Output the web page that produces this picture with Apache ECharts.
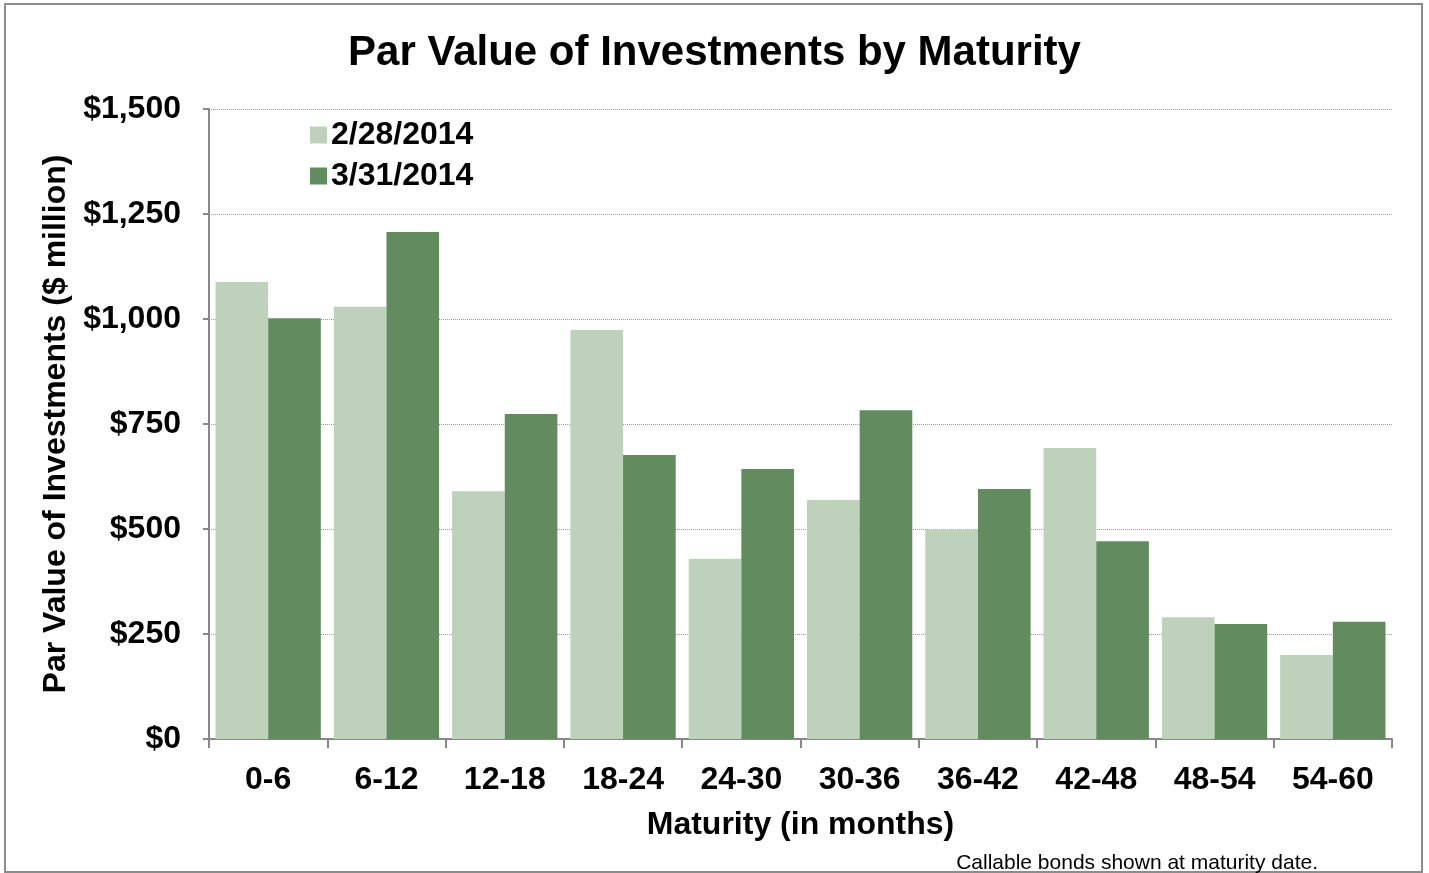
<!DOCTYPE html>
<html><head><meta charset="utf-8">
<script src="https://cdn.jsdelivr.net/npm/echarts@6/dist/echarts.min.js"></script>
<style>html,body{margin:0;padding:0;background:#fff}#c{width:1429px;height:873px}</style>
</head><body><div id="c"></div>
<script>
const categories = ['0-6','6-12','12-18','18-24','24-30','30-36','36-42','42-48','48-54','54-60'];
const feb2014 = [1088, 1029, 590, 974, 429, 569, 498, 693, 290, 200];
const mar2014 = [1002, 1207, 774, 676, 643, 783, 595, 471, 274, 279];
const seriesNames = ['2/28/2014', '3/31/2014'];
const yTicks = [0, 250, 500, 750, 1000, 1250, 1500];

const FONT = '"Liberation Sans", Arial, sans-serif';
const chart = echarts.init(document.getElementById('c'), null, {renderer:'canvas'});
chart.setOption({
  animation: false,
  backgroundColor: '#fff',
  textStyle: {fontFamily: FONT},
  title: {
    text: 'Par Value of Investments by Maturity',
    left: 'center', top: 27,
    textStyle: {fontFamily: FONT, fontSize: 42, fontWeight: 'bold', color: '#000'}
  },
  legend: {
    orient: 'vertical', left: 305, top: 114,
    itemWidth: 17, itemHeight: 17, itemGap: 9,
    textStyle: {fontFamily: FONT, fontSize: 32, fontWeight: 'bold', color: '#000', padding:[0,0,0,-1]},
    icon: 'rect',
    data: seriesNames
  },
  grid: {left: 209, right: 37, top: 109, bottom: 134},
  xAxis: {
    type: 'category', data: categories,
    axisLine: {lineStyle: {color: '#888', width: 2}},
    axisTick: {show: true, alignWithLabel: false, length: 9, lineStyle: {color: '#888', width: 2}},
    axisLabel: {fontFamily: FONT, fontSize: 32, fontWeight: 'bold', color: '#000', margin: 25},
    name: 'Maturity (in months)', nameLocation: 'middle', nameGap: 70,
    nameTextStyle: {fontFamily: FONT, fontSize: 32, fontWeight: 'bold', color: '#000'}
  },
  yAxis: {
    type: 'value', min: 0, max: 1500, interval: 250,
    axisLine: {show: true, lineStyle: {color: '#888', width: 2}},
    axisTick: {show: true, length: 6, lineStyle: {color: '#888', width: 2}},
    axisLabel: {fontFamily: FONT, fontSize: 32, fontWeight: 'bold', color: '#000', margin: 28,
      formatter: v => yTicks.includes(v) ? '$' + v.toLocaleString('en-US') : ''},
    splitLine: {show: true, lineStyle: {color: '#999', type: 'dotted', width: 1}},
    name: 'Par Value of Investments ($ million)', nameLocation: 'middle', nameGap: 137,
    nameTextStyle: {fontFamily: FONT, fontSize: 32, fontWeight: 'bold', color: '#000'}
  },
  series: [
    {name: seriesNames[0], type: 'bar', data: feb2014, barGap: '0%', barCategoryGap: '11%',
     itemStyle: {color: '#BDD1BB'}},
    {name: seriesNames[1], type: 'bar', data: mar2014, barGap: '0%', barCategoryGap: '11%',
     itemStyle: {color: '#628C5F'}}
  ],
  graphic: [
    {type: 'rect', shape: {x: 5, y: 4, width: 1417, height: 868}, style: {fill: 'none', stroke: '#8c8c8c', lineWidth: 2}, silent: true},
    {type: 'text', right: 111, top: 853, style: {text: 'Callable bonds shown at maturity date.', font: '21px ' + FONT, fill: '#000'}}
  ]
});
</script></body></html>
